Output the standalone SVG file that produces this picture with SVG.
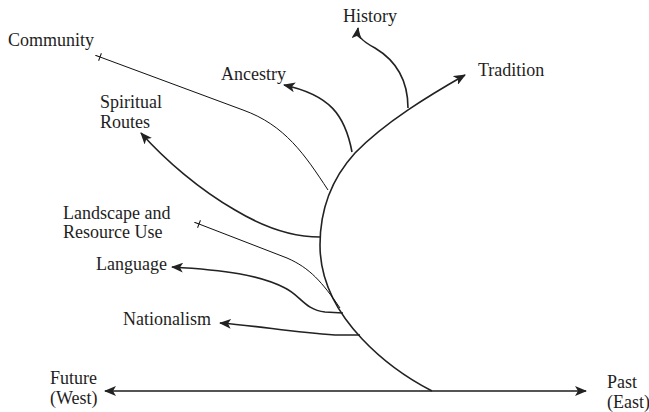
<svg xmlns="http://www.w3.org/2000/svg" width="649" height="412" viewBox="0 0 649 412">
<style>
text{font-family:"Liberation Serif","Times New Roman",serif;font-size:18px;fill:#1e1e1e}
.br{fill:none;stroke:#222;stroke-width:1.6}
.thin{fill:none;stroke:#111;stroke-width:1}
.axis{fill:none;stroke:#555;stroke-width:1.8}
</style>
<defs>
<marker id="ah" viewBox="0 0 12 10" refX="11" refY="5" markerWidth="12" markerHeight="10" markerUnits="userSpaceOnUse" orient="auto-start-reverse">
<path d="M0,0 L12,5 L0,10 L3,5 z" fill="#222"/>
</marker>
<marker id="tk" viewBox="0 0 6 8" refX="1" refY="4" markerWidth="6" markerHeight="8" markerUnits="userSpaceOnUse" orient="auto-start-reverse">
<path d="M1,0 L1,8 M1,4 L6,4" stroke="#111" stroke-width="1" fill="none"/>
</marker>
</defs>
<g id="connectors">
<path class="axis" d="M105,391 L586,391" marker-start="url(#ah)" marker-end="url(#ah)"/>
<path class="br" d="M432,391 C395,372 320,320 320,245 C320,205 335,175 355,153 C385,122 430,95 465,75" marker-end="url(#ah)"/>
<path class="br" d="M352,152 C345,115 330,95 284,85" marker-end="url(#ah)"/>
<path class="br" d="M408,108 C408,80 395,60 375,48 C360,40 357,35 358,28" marker-end="url(#ah)"/>
<path class="br" d="M320,237 C295,237 265,228 235,210 C200,190 165,160 141,133" marker-end="url(#ah)"/>
<path class="br" d="M343,313 L325,312 C305,310 300,295 285,288 C260,275 225,270 172,267" marker-end="url(#ah)"/>
<path class="br" d="M360,335 L335,335 C290,332 260,326 220,323" marker-end="url(#ah)"/>
<path class="thin" d="M328,190 C305,155 285,125 243,110 L100,57" marker-end="url(#tk)"/>
<path class="thin" d="M340,308 C322,282 310,268 287,258 L199,224" marker-end="url(#tk)"/>
</g>
<g id="node-community"><text x="8" y="46">Community</text></g>
<g id="node-history"><text x="343" y="22">History</text></g>
<g id="node-ancestry"><text x="221" y="80">Ancestry</text></g>
<g id="node-tradition"><text x="478" y="76">Tradition</text></g>
<g id="node-spiritual"><text x="100" y="108">Spiritual</text><text x="100" y="128">Routes</text></g>
<g id="node-landscape"><text x="63" y="219">Landscape and</text><text x="63" y="238">Resource Use</text></g>
<g id="node-language"><text x="96" y="270">Language</text></g>
<g id="node-nationalism"><text x="123" y="325">Nationalism</text></g>
<g id="node-future"><text x="50" y="384">Future</text><text x="50" y="404">(West)</text></g>
<g id="node-past"><text x="607" y="388">Past</text><text x="607" y="408">(East)</text></g>
</svg>
